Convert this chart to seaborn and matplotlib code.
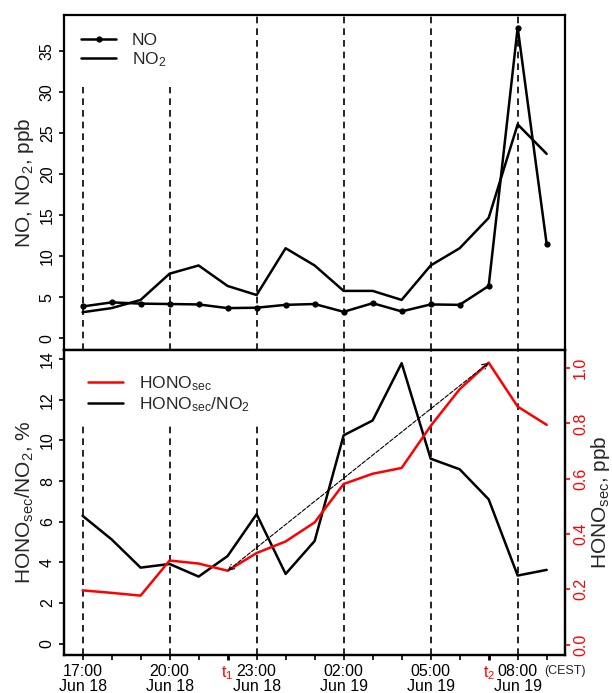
import matplotlib
matplotlib.use("Agg")
import matplotlib.pyplot as plt
import seaborn as sns

# hourly data, 17:00 Jun 18 -> 09:00 Jun 19
hours = list(range(17))
no = [3.9, 4.4, 4.25, 4.2, 4.15, 3.7, 3.75, 4.1, 4.2, 3.25, 4.3, 3.3, 4.15, 4.1, 6.4, 37.9, 11.5]
no2 = [3.2, 3.7, 4.7, 7.9, 8.9, 6.4, 5.3, 11.0, 8.9, 5.8, 5.8, 4.7, 8.9, 11.0, 14.7, 26.1, 22.5]
hono_ratio = [6.29, 5.13, 3.74, 3.92, 3.3, 4.31, 6.37, 3.43, 5.05, 10.25, 10.98, 13.8, 9.1, 8.58, 7.1, 3.35, 3.63]
hono_sec = [0.196, 0.187, 0.177, 0.304, 0.293, 0.267, 0.331, 0.373, 0.442, 0.581, 0.618, 0.639, 0.791, 0.924, 1.02, 0.861, 0.795]

label_hours = [0, 3, 6, 9, 12, 15]
tick_labels = ["17:00\nJun 18", "20:00\nJun 18", "23:00\nJun 18",
               "02:00\nJun 19", "05:00\nJun 19", "08:00\nJun 19"]
t1, t2 = 5, 14

sns.set_style("ticks")
plt.rcParams['font.family'] = ['Liberation Sans', 'DejaVu Sans']
plt.rcParams['mathtext.default'] = 'regular'

TICK = 11.5
LAB = 15
LEG = 12.5

fig = plt.figure(figsize=(6.12, 6.93), dpi=100)
ax1 = fig.add_axes([0.1046, 0.495, 0.819, 0.483])
ax2 = fig.add_axes([0.1046, 0.0548, 0.819, 0.4402])

dash = (0, (4, 3))

# ---------------- TOP PANEL ----------------
sns.lineplot(x=hours, y=no, ax=ax1, color='black', lw=1.8, marker='o',
             markersize=4.5, markeredgewidth=0, label='NO')
sns.lineplot(x=hours, y=no2, ax=ax1, color='black', lw=1.8, label='NO$_2$')
ax1.set_xlim(-0.64, 16.64)
ax1.set_ylim(-1.4, 39.4)
for h in label_hours:
    top = 30.6 if h < 6 else 39.4
    ax1.vlines(h, -1.4, top, colors='black', linestyles=dash, lw=1.2)
ax1.set_yticks(range(0, 40, 5))
ax1.set_xticks([])
ax1.set_ylabel("NO, NO$_2$, ppb", fontsize=LAB, labelpad=3)
ax1.legend(loc='upper left', frameon=False, fontsize=LEG, handlelength=2.0,
           handletextpad=0.9, labelspacing=0.15, borderaxespad=0.6)

# ---------------- BOTTOM PANEL ----------------
sns.lineplot(x=hours, y=hono_ratio, ax=ax2, color='black', lw=1.8)
ax2.set_xlim(-0.64, 16.64)
ax2.set_ylim(-0.56, 14.45)
for h in label_hours:
    top = 10.7 if h < 9 else 14.45
    ax2.vlines(h, -0.56, top, colors='black', linestyles=dash, lw=1.2)
ax2.set_yticks(range(0, 15, 2))
ax2.set_ylabel("HONO$_{sec}$/NO$_2$, %", fontsize=LAB, labelpad=3)

xt = []
for h in hours:
    if h in label_hours:
        xt.append(tick_labels[label_hours.index(h)])
    elif h == t1:
        xt.append("t$_1$")
    elif h == t2:
        xt.append("t$_2$")
    else:
        xt.append("")
ax2.set_xticks(hours)
ax2.set_xticklabels(xt, fontsize=TICK, linespacing=1.0)

ax3 = ax2.twinx()
sns.lineplot(x=hours, y=hono_sec, ax=ax3, color='red', lw=1.8)
ax3.set_ylim(-0.038, 1.066)
ax3.set_yticks([0.0, 0.2, 0.4, 0.6, 0.8, 1.0])
ax3.set_yticklabels(["0.0", "0.2", "0.4", "0.6", "0.8", "1.0"])
ax3.tick_params(axis='y', colors='red', labelsize=TICK, length=3.6, width=1.2, pad=2)
ax3.set_ylabel("HONO$_{sec}$, ppb", fontsize=LAB, labelpad=1)
ax3.annotate("", xy=(t2, hono_sec[t2]), xytext=(t1, hono_sec[t1]),
             arrowprops=dict(arrowstyle='<->', lw=0.8, ls='--', color='black',
                             shrinkA=0, shrinkB=0, mutation_scale=10))

ax2.text(16.62, -0.032, "(CEST)", transform=ax2.get_xaxis_transform(),
         ha='center', va='top', fontsize=9)

# legend for bottom panel
h_red, = ax2.plot([], [], color='red', lw=1.8)
h_blk, = ax2.plot([], [], color='black', lw=1.8)
ax2.legend([h_red, h_blk], ["HONO$_{sec}$", "HONO$_{sec}$/NO$_2$"], loc='upper left',
           frameon=False, fontsize=LEG, handlelength=2.0, handletextpad=0.9,
           labelspacing=0.15, borderaxespad=1.0)

for ax in (ax1, ax2, ax3):
    for s in ax.spines.values():
        s.set_linewidth(1.6)
        s.set_visible(True)
        s.set_color('black')
for ax in (ax1, ax2):
    ax.tick_params(axis='both', labelsize=TICK, length=3.6, width=1.2, colors='black', pad=3)

for i, tk in enumerate(ax2.xaxis.get_major_ticks()):
    if i in (t1, t2):
        tk.tick1line.set_color('red')
        tk.tick1line.set_markeredgewidth(2)
        tk.label1.set_color('red')

for ax in (ax1, ax2, ax3):
    for lbl in ax.get_yticklabels():
        lbl.set_rotation(90)
        lbl.set_va('center')

plt.savefig("out.png", dpi=100)
